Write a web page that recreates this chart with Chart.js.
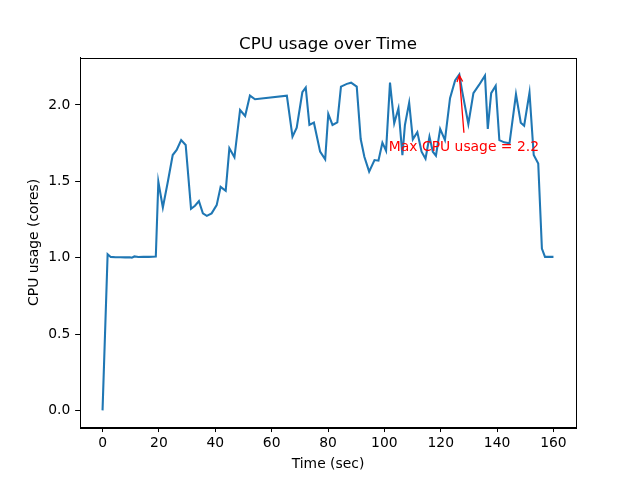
<!DOCTYPE html>
<html>
<head>
<meta charset="utf-8">
<title>CPU usage over Time</title>
<script src="https://cdn.jsdelivr.net/npm/chart.js@4/dist/chart.umd.min.js"></script>
<style>
  html, body { margin: 0; padding: 0; background: #fff; }
  canvas { display: block; }
</style>
</head>
<body>
<canvas id="cpuChart" width="640" height="480"></canvas>
<script>
// sample times (sec) and cpu usage (cores)
const times = [
    0, 1.8, 2.9, 4.6, 6.3, 8.0, 9.7, 10.4, 11.3, 12.7, 14.5, 16.4, 18.9,
    19.8, 21.4, 23.2, 24.9, 26.3, 27.9, 29.5, 31.4, 32.8, 34.2, 35.6, 37.0,
    38.7, 40.5, 41.9, 43.7, 45.0, 46.8, 48.8, 50.6, 52.3, 54.1, 65.4, 67.4,
    68.9, 70.9, 72.1, 73.4, 75.0, 77.2, 79.0, 80.1, 81.6, 83.3, 84.6, 86.7,
    88.2, 90.2, 91.6, 92.9, 94.6, 96.5, 97.9, 99.3, 100.6, 102.0, 103.5,
    105.0, 106.4, 107.3, 108.8, 110.1, 111.7, 113.2, 114.6, 116.0, 117.2,
    118.3, 119.8, 121.5, 123.3, 125.1, 126.6, 127.6, 129.8, 131.6, 133.6,
    135.7, 136.7, 137.9, 139.5, 140.8, 142.5, 144.4, 146.7, 148.4, 149.6,
    151.5, 153.0, 154.6, 155.9, 157.0, 158.5, 160.0
];
const cpuUsage = [
    0.0, 1.023, 1.005, 1.003, 1.003, 1.002, 1.003, 1.000, 1.008, 1.004, 1.005, 1.005, 1.007,
    1.497, 1.329, 1.50, 1.672, 1.705, 1.770, 1.738, 1.320, 1.340, 1.370, 1.290, 1.274,
    1.290, 1.344, 1.464, 1.438, 1.716, 1.657, 1.967, 1.928, 2.061, 2.037, 2.061, 1.792,
    1.851, 2.083, 2.114, 1.869, 1.884, 1.694, 1.644, 1.941, 1.869, 1.886, 2.120, 2.138,
    2.146, 2.120, 1.777, 1.661, 1.563, 1.639, 1.635, 1.753, 1.700, 2.146, 1.880,
    1.978, 1.672, 1.869, 2.015, 1.775, 1.822, 1.694, 1.648, 1.792, 1.694,
    1.668, 1.843, 1.770, 2.044, 2.160, 2.200, 2.090, 1.875, 2.077, 2.131,
    2.192, 1.843, 2.077, 2.125, 1.770, 1.755, 1.749, 2.070, 1.884, 1.864,
    2.081, 1.672, 1.617, 1.060, 1.005, 1.005, 1.005
];
const xTicks = [0, 20, 40, 60, 80, 100, 120, 140, 160];
const yTicks = [0.0, 0.5, 1.0, 1.5, 2.0];

// where the annotation text sits (data units, offset from the peak)
const labelOffset = [-25, -0.5];

const FONT = "'DejaVu Sans', sans-serif";
const TITLE = "CPU usage over Time";

// find the peak
let maxIdx = 0;
cpuUsage.forEach((v, i) => { if (v > cpuUsage[maxIdx]) maxIdx = i; });
const maxTime = times[maxIdx];
const maxVal = cpuUsage[maxIdx];

// title over the plot, full box around it, red note with arrow
const boxAndNote = {
    id: "boxAndNote",
    afterDraw(chart) {
        const { ctx, chartArea: a, scales: { x, y } } = chart;
        ctx.save();
        ctx.strokeStyle = "#000";
        ctx.lineWidth = 1;
        ctx.strokeRect(Math.round(a.left) + 0.5, Math.round(a.top) + 0.5,
            Math.round(a.right - a.left), Math.round(a.bottom - a.top));

        ctx.fillStyle = "#000";
        ctx.font = `16.67px ${FONT}`;
        ctx.textAlign = "center";
        ctx.textBaseline = "alphabetic";
        ctx.fillText(TITLE, (a.left + a.right) / 2, a.top - 8.3);

        const label = `Max CPU usage = ${maxVal.toFixed(1)}`;
        const tx = x.getPixelForValue(maxTime + labelOffset[0]);
        const ty = y.getPixelForValue(maxVal + labelOffset[1]);
        ctx.font = `13.89px ${FONT}`;
        ctx.fillStyle = "red";
        ctx.textAlign = "left";
        ctx.fillText(label, tx, ty);

        const w = ctx.measureText(label).width;
        const sx = tx + w / 2, sy = ty - 18;
        const hx = x.getPixelForValue(maxTime), hy = y.getPixelForValue(maxVal) + 1;
        ctx.strokeStyle = "red";
        ctx.lineWidth = 1.3;
        ctx.beginPath();
        ctx.moveTo(sx, sy);
        ctx.lineTo(hx, hy);
        const ang = Math.atan2(hy - sy, hx - sx);
        const hl = 7, hw = 0.42;
        ctx.moveTo(hx - hl * Math.cos(ang - hw), hy - hl * Math.sin(ang - hw));
        ctx.lineTo(hx, hy);
        ctx.lineTo(hx - hl * Math.cos(ang + hw), hy - hl * Math.sin(ang + hw));
        ctx.stroke();
        ctx.restore();
    }
};

const ctx = document.getElementById("cpuChart").getContext("2d");
new Chart(ctx, {
    type: "line",
    data: {
        datasets: [{
            label: "CPU usage",
            data: times.map((t, i) => ({ x: t, y: cpuUsage[i] })),
            borderColor: "#1f77b4",
            borderWidth: 2.08,
            pointRadius: 0,
            tension: 0,
            fill: false
        }]
    },
    options: {
        responsive: false,
        animation: false,
        layout: { padding: { left: 0, right: 64, top: 57.6, bottom: 0 } },
        plugins: {
            legend: { display: false },
            tooltip: { enabled: false },
            title: { display: false }
        },
        scales: {
            x: {
                type: "linear",
                min: -8,
                max: 168,
                afterBuildTicks: scale => { scale.ticks = xTicks.map(v => ({ value: v })); },
                afterFit: scale => { scale.height = 52.8; },
                grid: { drawOnChartArea: false, drawTicks: true, tickLength: 4.86, tickColor: "#000" },
                border: { display: true, color: "#000", width: 1 },
                ticks: {
                    color: "#000",
                    padding: 3,
                    maxRotation: 0,
                    font: { family: FONT, size: 13.89 },
                    callback: v => String(v)
                },
                title: {
                    display: true,
                    text: "Time (sec)",
                    color: "#000",
                    font: { family: FONT, size: 13.89 },
                    padding: { top: 0, bottom: 7 }
                }
            },
            y: {
                type: "linear",
                min: -0.11,
                max: 2.31,
                afterBuildTicks: scale => { scale.ticks = yTicks.map(v => ({ value: v })); },
                afterFit: scale => { scale.width = 80; },
                grid: { drawOnChartArea: false, drawTicks: true, tickLength: 4.86, tickColor: "#000" },
                border: { display: true, color: "#000", width: 1 },
                ticks: {
                    color: "#000",
                    padding: 4.86,
                    font: { family: FONT, size: 13.89 },
                    callback: v => Number(v).toFixed(1)
                },
                title: {
                    display: true,
                    text: "CPU usage (cores)",
                    color: "#000",
                    font: { family: FONT, size: 13.89 },
                    padding: { top: 26, bottom: 0 }
                }
            }
        }
    },
    plugins: [boxAndNote]
});
</script>
</body>
</html>
